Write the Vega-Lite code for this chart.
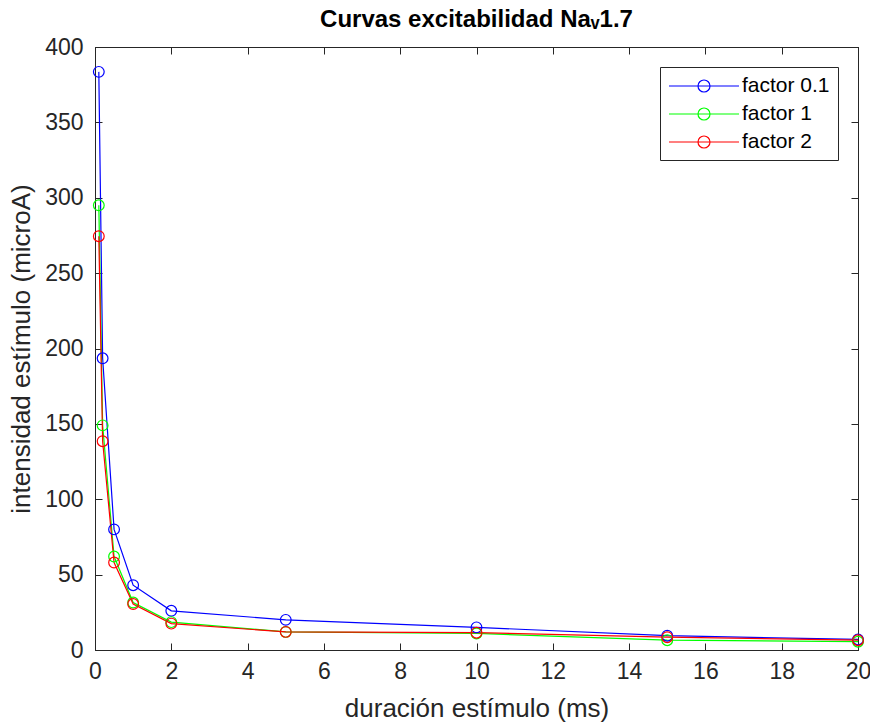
{
  "$schema": "https://vega.github.io/schema/vega-lite/v6.json",
  "autosize": "none",
  "width": 763,
  "height": 603,
  "padding": {"left": 95, "top": 47, "right": 12, "bottom": 75},
  "background": "white",
  "title": {"text": "Curvas excitabilidad Naᵥ1.7", "font": "Liberation Sans", "fontSize": 24, "fontWeight": "bold", "color": "#000000", "offset": 4, "anchor": "middle"},
  "config": {
    "view": {"stroke": "#262626", "strokeWidth": 1},
    "axis": {"grid": false, "labelFlush": false, "domainColor": "#262626", "tickColor": "#262626", "labelColor": "#262626", "titleColor": "#262626", "labelFont": "Liberation Sans", "titleFont": "Liberation Sans", "labelFontSize": 23, "titleFontSize": 26, "titleFontWeight": "normal", "tickSize": -7, "tickWidth": 1, "domainWidth": 1}
  },
  "data": {"values": [
    {"dur": 0.1, "i": 383.5, "serie": "factor 0.1"},
    {"dur": 0.2, "i": 193.5, "serie": "factor 0.1"},
    {"dur": 0.5, "i": 80, "serie": "factor 0.1"},
    {"dur": 1, "i": 43, "serie": "factor 0.1"},
    {"dur": 2, "i": 26, "serie": "factor 0.1"},
    {"dur": 5, "i": 20, "serie": "factor 0.1"},
    {"dur": 10, "i": 15, "serie": "factor 0.1"},
    {"dur": 15, "i": 9.5, "serie": "factor 0.1"},
    {"dur": 20, "i": 7, "serie": "factor 0.1"},
    {"dur": 0.1, "i": 295, "serie": "factor 1"},
    {"dur": 0.2, "i": 149, "serie": "factor 1"},
    {"dur": 0.5, "i": 62, "serie": "factor 1"},
    {"dur": 1, "i": 31.5, "serie": "factor 1"},
    {"dur": 2, "i": 18.5, "serie": "factor 1"},
    {"dur": 5, "i": 12, "serie": "factor 1"},
    {"dur": 10, "i": 11, "serie": "factor 1"},
    {"dur": 15, "i": 6.5, "serie": "factor 1"},
    {"dur": 20, "i": 5.5, "serie": "factor 1"},
    {"dur": 0.1, "i": 274.5, "serie": "factor 2"},
    {"dur": 0.2, "i": 138.5, "serie": "factor 2"},
    {"dur": 0.5, "i": 58, "serie": "factor 2"},
    {"dur": 1, "i": 30.5, "serie": "factor 2"},
    {"dur": 2, "i": 17.5, "serie": "factor 2"},
    {"dur": 5, "i": 12, "serie": "factor 2"},
    {"dur": 10, "i": 11.5, "serie": "factor 2"},
    {"dur": 15, "i": 8.5, "serie": "factor 2"},
    {"dur": 20, "i": 6.5, "serie": "factor 2"}
  ]},
  "layer": [
    {
      "mark": {"type": "line", "strokeWidth": 1.2, "point": {"filled": false, "size": 115, "strokeWidth": 1.2}},
      "encoding": {
        "x": {"field": "dur", "type": "quantitative", "scale": {"domain": [0, 20], "nice": false, "zero": false},
              "axis": {"orient": "bottom", "values": [0,2,4,6,8,10,12,14,16,18,20], "title": "duración estímulo (ms)", "labelPadding": 17, "titlePadding": 12}},
        "y": {"field": "i", "type": "quantitative", "scale": {"domain": [0, 400], "nice": false, "zero": false},
              "axis": {"orient": "left", "values": [0,50,100,150,200,250,300,350,400], "title": "intensidad estímulo (microA)", "labelPadding": 19, "titlePadding": 10}},
        "color": {"field": "serie", "type": "nominal",
                  "scale": {"domain": ["factor 0.1", "factor 1", "factor 2"], "range": ["#0000ff", "#00ff00", "#ff0000"]},
                  "legend": {"title": null, "orient": "top-right", "offset": 20,
                             "symbolType": "M-1,0H6M1.9,0A0.6,0.6,0,1,0,3.1,0A0.6,0.6,0,1,0,1.9,0",
                             "symbolSize": 400, "symbolStrokeWidth": 1.2, "symbolFillColor": "transparent",
                             "labelOffset": 52, "labelFont": "Liberation Sans", "labelFontSize": 21, "labelColor": "#000000",
                             "rowPadding": 7, "padding": 8, "strokeColor": "#262626", "fillColor": "white", "cornerRadius": 0}}
      }
    },
    {
      "mark": {"type": "point", "opacity": 0},
      "encoding": {
        "x": {"field": "dur", "type": "quantitative", "scale": {"domain": [0, 20], "nice": false, "zero": false},
              "axis": {"orient": "top", "values": [0,2,4,6,8,10,12,14,16,18,20], "labels": false, "title": null}},
        "y": {"field": "i", "type": "quantitative", "scale": {"domain": [0, 400], "nice": false, "zero": false},
              "axis": {"orient": "right", "values": [0,50,100,150,200,250,300,350,400], "labels": false, "title": null}}
      }
    }
  ],
  "resolve": {"scale": {"x": "independent", "y": "independent"}}
}
